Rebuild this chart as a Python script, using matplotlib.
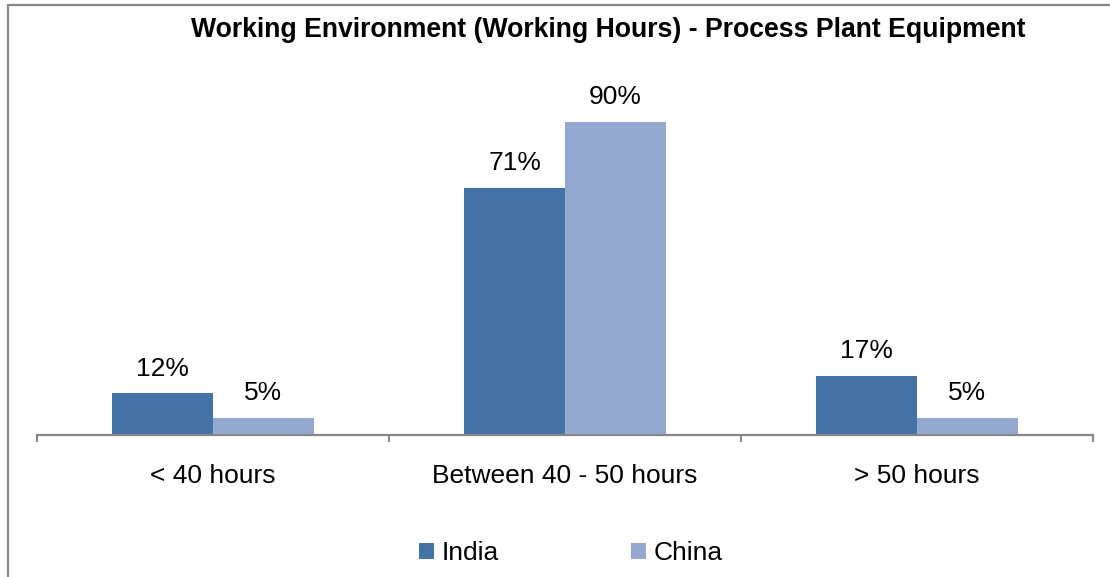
import numpy as np
import matplotlib.pyplot as plt
from matplotlib.patches import Rectangle

plt.rcParams['font.family'] = ['Liberation Sans', 'DejaVu Sans']

categories = ['< 40 hours', 'Between 40 - 50 hours', '> 50 hours']
india = [12, 71, 17]
china = [5, 90, 5]
series_names = ['India', 'China']
colors = ['#4573A7', '#95A9D0']

W, H = 1110, 577
fig = plt.figure(figsize=(W / 100, H / 100), dpi=100)

# frame around the chart (only top and left edges fall inside the canvas)
fig.patches.append(Rectangle((8 / W, -0.1), 1.2, 1 - 5 / H + 0.1, transform=fig.transFigure,
                             fill=False, edgecolor='#878787', linewidth=1.6))

ax = fig.add_axes([37 / W, 1 - 435 / H, (1093 - 37) / W, (435 - 87) / H])

x = np.arange(len(categories))
bw = 1 / 3.5
ax.bar(x - bw / 2, india, bw, color=colors[0], label=series_names[0])
ax.bar(x + bw / 2, china, bw, color=colors[1], label=series_names[1])

for xi, v in zip(x - bw / 2, india):
    ax.annotate(f'{v}%', (xi, v), xytext=(0, 9), textcoords='offset points',
                ha='center', va='bottom', fontsize=19)
for xi, v in zip(x + bw / 2, china):
    ax.annotate(f'{v}%', (xi, v), xytext=(0, 9), textcoords='offset points',
                ha='center', va='bottom', fontsize=19)

ax.set_xlim(-0.5, 2.5)
ax.set_ylim(0, 100)
ax.set_xticks(x)
ax.set_xticklabels(categories, fontsize=19)
ax.set_xticks([-0.5, 0.5, 1.5, 2.5], minor=True)
ax.tick_params(axis='x', which='major', length=0, pad=21)
ax.tick_params(axis='x', which='minor', length=5, width=1.5, color='#878787')
ax.set_yticks([])
for s in ['top', 'right', 'left']:
    ax.spines[s].set_visible(False)
ax.spines['bottom'].set_color('#878787')
ax.spines['bottom'].set_linewidth(1.6)

fig.text(608 / W, 1 - 30 / H, 'Working Environment (Working Hours) - Process Plant Equipment',
         ha='center', va='center', fontsize=19.2, fontweight='bold')

fig.legend(loc='center', bbox_to_anchor=(571 / W, 1 - 553 / H), ncol=2, frameon=False,
           fontsize=19, handlelength=0.55, handleheight=0.55, handletextpad=0.3,
           columnspacing=5.0)

fig.savefig('out.png', dpi=100)
